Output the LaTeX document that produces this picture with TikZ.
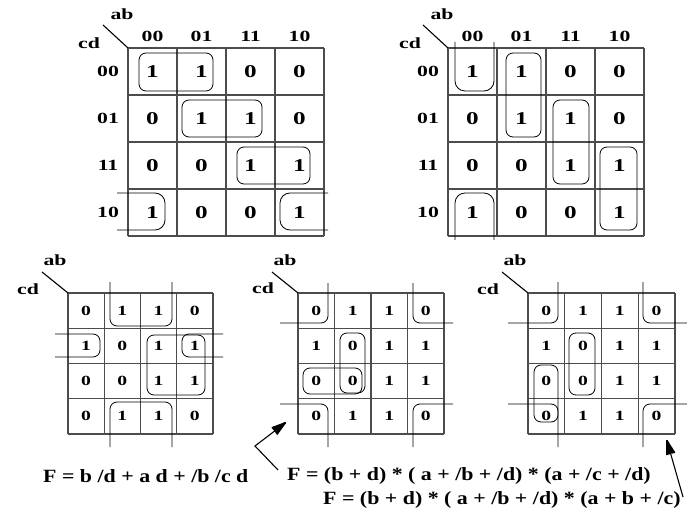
\documentclass[tikz,border=0pt]{standalone}
\usepackage{fontspec}
\setmainfont{Liberation Serif}
\newfontfamily\widefont[FakeStretch=1.4,BoldFeatures={FakeStretch=1.4}]{Liberation Serif}
\newfontfamily\eqfont[FakeStretch=1.17,BoldFeatures={FakeStretch=1.17}]{Liberation Serif}
\usetikzlibrary{calc}
\tikzset{
  gline/.style={line width=1.1pt, draw=black!70},
  grp/.style={line width=0.8pt, rounded corners=7pt},
  bigdig/.style={font=\widefont\fontsize{18}{18}\selectfont\bfseries, inner sep=0pt},
  smdig/.style={font=\widefont\fontsize{14}{14}\selectfont\bfseries, inner sep=0pt},
  lbl/.style={font=\widefont\fontsize{15.5}{15.5}\selectfont\bfseries, inner sep=0pt},
  eqn/.style={font=\eqfont\fontsize{18.7}{18.7}\selectfont\bfseries, inner sep=0pt, anchor=west},
  diag/.style={line width=1.1pt},
  arrline/.style={line width=1.1pt},
  headstroke/.style={line width=1.6pt, line cap=round, line join=round}
}
\newcommand{\kgrid}[4]{%
  \foreach \i in {0,...,4}{%
    \draw[gline] ({#1+#3*\i},#2) -- ({#1+#3*\i},{#2+4*#4});
    \draw[gline] (#1,{#2+#4*\i}) -- ({#1+4*#3},{#2+#4*\i});
  }}
% arrow head drawn with strokes: tip, corner1, notch, corner2
\newcommand{\shead}[4]{%
  \draw[headstroke] (#1) -- (#2) -- (#3) -- (#4) -- cycle;
  \foreach \t in {0.15,0.3,0.5,0.7,0.85}{\draw[headstroke] (#1) -- ($(#2)!\t!(#4)$);}
}
\begin{document}
\begin{tikzpicture}[x=1pt,y=-1pt]
\useasboundingbox (0,0) rectangle (687,510);

% ---------------- Map 1 ----------------
\kgrid{128}{48}{49}{47}
\foreach \r/\row in {0/{1,1,0,0},1/{0,1,1,0},2/{0,0,1,1},3/{1,0,0,1}}{
  \foreach \v [count=\c from 0] in \row {
    \node[bigdig] (ma-\r-\c) at ({128+49*(\c+0.5)},{48+47*(\r+0.5)}) {\v};
  }}
\foreach \t [count=\c from 0] in {00,01,11,10}{
  \node[lbl] (mac-\c) at ({128+49*(\c+0.5)},36) {\t};
  \node[lbl] (mar-\c) at (108,{48+47*(\c+0.5)}) {\t};
}
\node[lbl] (maab) at (122,14) {ab};
\node[lbl] (macd) at (89,43) {cd};
\draw[diag] (103,25) -- (128,48);
\draw[grp] (139,53) rectangle (213,91);
\draw[grp] (182,100) rectangle (262,137);
\draw[grp] (237,147) rectangle (310,184);
\draw[grp,rounded corners=10pt] (117,193) -- (165,193) -- (165,230) -- (117,230);
\draw[grp,rounded corners=10pt] (328,193) -- (280,193) -- (280,230) -- (328,230);

% ---------------- Map 2 ----------------
\kgrid{448}{48}{49}{47}
\foreach \r/\row in {0/{1,1,0,0},1/{0,1,1,0},2/{0,0,1,1},3/{1,0,0,1}}{
  \foreach \v [count=\c from 0] in \row {
    \node[bigdig] (mb-\r-\c) at ({448+49*(\c+0.5)},{48+47*(\r+0.5)}) {\v};
  }}
\foreach \t [count=\c from 0] in {00,01,11,10}{
  \node[lbl] (mbc-\c) at ({448+49*(\c+0.5)},36) {\t};
  \node[lbl] (mbr-\c) at (428,{48+47*(\c+0.5)}) {\t};
}
\node[lbl] (mbab) at (442,14) {ab};
\node[lbl] (mbcd) at (410,43) {cd};
\draw[diag] (423,25) -- (448,48);
\draw[grp,rounded corners=10pt] (455,42) -- (455,91) -- (494,91) -- (494,42);
\draw[grp,rounded corners=10pt] (455,240) -- (455,193) -- (494,193) -- (494,240);
\draw[grp] (506,53) rectangle (541,137);
\draw[grp] (553,100) rectangle (589,184);
\draw[grp] (600,147) rectangle (637,230);

% ---------------- Map 3 ----------------
\kgrid{68}{293}{36.25}{35.25}
\foreach \r/\row in {0/{0,1,1,0},1/{1,0,1,1},2/{0,0,1,1},3/{0,1,1,0}}{
  \foreach \v [count=\c from 0] in \row {
    \node[smdig] (mc-\r-\c) at ({68+36.25*(\c+0.5)},{293+35.25*(\r+0.5)}) {\v};
  }}
\node[lbl] (mcab) at (55,260) {ab};
\node[lbl] (mccd) at (28,289) {cd};
\draw[diag] (42,272) -- (68,293);
\draw[grp] (110,282) -- (110,326) -- (172,326) -- (172,282);
\draw[grp] (110,447) -- (110,402) -- (172,402) -- (172,447);
\draw[grp] (55,334) -- (100,334) -- (100,357) -- (55,357);
\draw[grp] (223,334) -- (182,334) -- (182,357) -- (223,357);
\draw[grp] (147,335) rectangle (205,395);

% ---------------- Map 4 ----------------
\kgrid{298}{293}{36.5}{35.25}
\foreach \r/\row in {0/{0,1,1,0},1/{1,0,1,1},2/{0,0,1,1},3/{0,1,1,0}}{
  \foreach \v [count=\c from 0] in \row {
    \node[smdig] (md-\r-\c) at ({298+36.5*(\c+0.5)},{293+35.25*(\r+0.5)}) {\v};
  }}
\node[lbl] (mdab) at (285,260) {ab};
\node[lbl] (mdcd) at (263,288) {cd};
\draw[diag] (272,272) -- (298,293);
\draw[grp] (328,283) -- (328,323) -- (280,323);
\draw[grp] (413,283) -- (413,323) -- (453,323);
\draw[grp] (280,404) -- (328,404) -- (328,447);
\draw[grp] (453,404) -- (413,404) -- (413,447);
\draw[grp] (340,333) rectangle (365,393);
\draw[grp] (303,368) rectangle (362,394);

% ---------------- Map 5 ----------------
\kgrid{528}{293}{36.75}{35.25}
\foreach \r/\row in {0/{0,1,1,0},1/{1,0,1,1},2/{0,0,1,1},3/{0,1,1,0}}{
  \foreach \v [count=\c from 0] in \row {
    \node[smdig] (me-\r-\c) at ({528+36.75*(\c+0.5)},{293+35.25*(\r+0.5)}) {\v};
  }}
\node[lbl] (meab) at (515,260) {ab};
\node[lbl] (mecd) at (488,289) {cd};
\draw[diag] (502,272) -- (528,293);
\draw[grp] (558,282) -- (558,323) -- (508,323);
\draw[grp] (643,282) -- (643,323) -- (687,323);
\draw[grp] (508,404) -- (558,404) -- (558,447);
\draw[grp] (687,404) -- (643,404) -- (643,447);
\draw[grp] (569,333) rectangle (595,395);
\draw[grp] (534,365) rectangle (558,422);

% ---------------- Equations ----------------
\node[eqn] (eq1) at (43,476) {F = b /d + a d + /b /c d};
\node[eqn] (eq2) at (287,476) {F = (b + d) * ( a + /b + /d) * (a + /c + /d)};
\node[eqn] (eq3) at (323,500) {F = (b + d) * ( a + /b + /d) * (a + b + /c)};
% arrow 1
\coordinate (a1s) at (278,470);
\coordinate (a1m) at (255,446);
\coordinate (a1e) at (285,423);
\coordinate (a1c1) at (277.1,434.1);
\coordinate (a1n) at (277.9,428.5);
\coordinate (a1c2) at (272.3,427.7);
\draw[arrline] (a1s) -- (a1m) -- (a1n);
\shead{a1e}{a1c1}{a1n}{a1c2}
% arrow 2
\coordinate (a2s) at (683,497);
\coordinate (a2e) at (667,441);
\coordinate (a2c1) at (674.4,452.4);
\coordinate (a2n) at (669.5,449.7);
\coordinate (a2c2) at (666.8,454.6);
\draw[arrline] (a2s) -- (a2n);
\shead{a2e}{a2c1}{a2n}{a2c2}
\end{tikzpicture}
\end{document}
